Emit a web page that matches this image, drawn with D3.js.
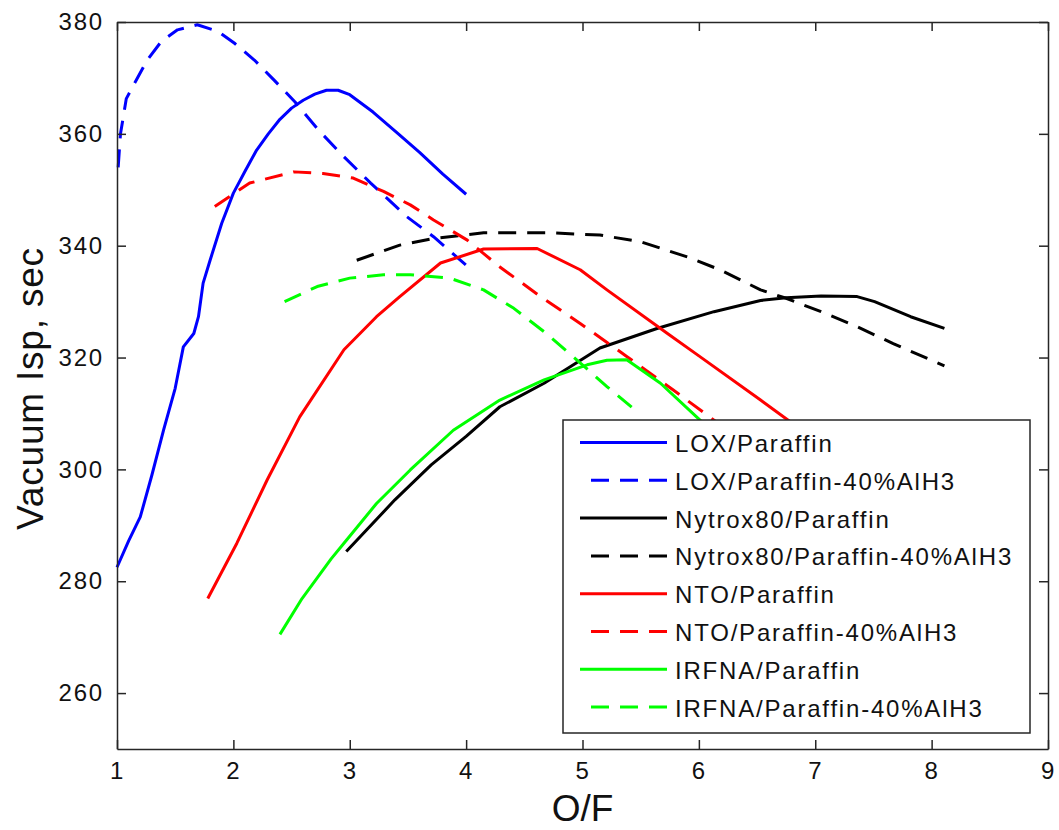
<!DOCTYPE html>
<html>
<head>
<meta charset="utf-8">
<script src="https://cdn.jsdelivr.net/npm/d3@7"></script>
<style>
    body { margin: 0; background: #fff; }
    svg { display: block; font-family: "Liberation Sans", Arial, Helvetica, sans-serif; }
    .axis path, .axis line { stroke: #262626; stroke-width: 1.5; }
    .axis text { font-size: 24px; fill: #111; letter-spacing: 1.8px; }
    .legend text { font-size: 24px; fill: #111; letter-spacing: 1.8px; }
</style>
</head>
<body>
<svg width="1059" height="830"></svg>
<script>
/* Isp vs O/F data */

var seriesNames = ["LOX/Paraffin", "LOX/Paraffin-40%AlH3", "Nytrox80/Paraffin", "Nytrox80/Paraffin-40%AlH3",
    "NTO/Paraffin", "NTO/Paraffin-40%AlH3", "IRFNA/Paraffin", "IRFNA/Paraffin-40%AlH3"];
var seriesColors = ["#0000ff", "#0000ff", "#000000", "#000000", "#ff0000", "#ff0000", "#00ff00", "#00ff00"];
var seriesDashed = [false, true, false, true, false, true, false, true];

var xTicks = [1, 2, 3, 4, 5, 6, 7, 8, 9];
var yTicks = [260, 280, 300, 320, 340, 360, 380];

var loxOF = [1.0, 1.1, 1.2, 1.3, 1.4, 1.5, 1.57, 1.66, 1.7, 1.74, 1.8, 1.9, 2.0, 2.1, 2.2, 2.3, 2.4, 2.5, 2.6, 2.7, 2.8, 2.9, 3.0, 3.2, 3.4, 3.6, 3.8, 4.0];
var loxIsp = [282.5, 287.2, 291.5, 299, 307, 314.5, 321.9, 324.3, 327.3, 333.3, 337.4, 344, 349.4, 353.3, 357.1, 360, 362.6, 364.6, 366, 367.1, 367.8, 367.8, 367, 363.9, 360.3, 356.7, 352.8, 349.2];

var loxAlOF = [1.01, 1.03, 1.08, 1.15, 1.26, 1.38, 1.52, 1.69, 1.87, 2.01, 2.18, 2.35, 2.53, 2.73, 2.95, 3.18, 3.49, 3.72, 4.0];
var loxAlIsp = [354, 360, 366.3, 369, 373.2, 376.5, 378.6, 379.5, 378.3, 376.2, 373.2, 369.6, 365.7, 360.7, 355.9, 351.2, 345.2, 341.6, 336.5];

var nytroxOF = [2.97, 3.39, 3.7, 4.0, 4.29, 4.67, 5.15, 5.64, 6.13, 6.53, 6.75, 7.05, 7.36, 7.51, 7.82, 8.11];
var nytroxIsp = [285.3, 294.6, 300.8, 305.9, 311.2, 315.4, 321.7, 325.2, 328.2, 330.2, 330.7, 331, 330.9, 330, 327.3, 325.2];

var nytroxAlOF = [3.06, 3.43, 3.72, 4.15, 4.72, 5.15, 5.5, 5.9, 6.18, 6.53, 6.75, 7.05, 7.36, 7.67, 8.11];
var nytroxAlIsp = [337.4, 340.1, 341.3, 342.3, 342.3, 341.9, 340.7, 338, 335.7, 332.1, 330.6, 328.2, 325.5, 322.5, 318.5];

var ntoOF = [1.78, 2.03, 2.29, 2.57, 2.95, 3.23, 3.43, 3.78, 4.15, 4.61, 4.98, 5.21, 5.73, 6.0, 6.53, 6.8];
var ntoIsp = [276.9, 286.8, 298.1, 309.4, 321.4, 327.3, 330.9, 336.9, 339.4, 339.5, 335.7, 332.1, 324.3, 320.3, 312.4, 308.3];

var ntoAlOF = [1.84, 2.14, 2.52, 2.77, 3.03, 3.29, 3.52, 3.72, 4.01, 4.29, 4.64, 4.98, 5.38, 5.78, 6.13, 6.25];
var ntoAlIsp = [347, 351.2, 353.2, 352.9, 352.1, 349.7, 347.3, 344.6, 341, 336.2, 330.9, 326.1, 320.2, 314.2, 308.8, 307];

var irfnaOF = [2.40, 2.59, 2.84, 2.95, 3.23, 3.52, 3.89, 4.29, 4.67, 5.04, 5.21, 5.38, 5.67, 6.01, 6.1];
var irfnaIsp = [270.5, 276.9, 284, 286.8, 293.9, 299.9, 307, 312.4, 316, 318.7, 319.5, 319.6, 315.4, 308.8, 307.5];

var irfnaAlOF = [2.44, 2.72, 3.0, 3.29, 3.52, 3.86, 4.15, 4.41, 4.69, 4.95, 5.21, 5.47];
var irfnaAlIsp = [330, 332.7, 334.2, 334.8, 334.8, 334.2, 332.1, 328.8, 324.3, 319.6, 314.8, 310.3];

var seriesOF = [loxOF, loxAlOF, nytroxOF, nytroxAlOF, ntoOF, ntoAlOF, irfnaOF, irfnaAlOF];
var seriesIsp = [loxIsp, loxAlIsp, nytroxIsp, nytroxAlIsp, ntoIsp, ntoAlIsp, irfnaIsp, irfnaAlIsp];

var svg = d3.select("svg"),
    margin = {top: 22, right: 11, bottom: 81, left: 117},
    width = +svg.attr("width") - margin.left - margin.right,
    height = +svg.attr("height") - margin.top - margin.bottom;

var x = d3.scaleLinear().domain([1, 9]).range([0, width]),
    y = d3.scaleLinear().domain([250, 380]).range([height, 0]);

var g = svg.append("g")
    .attr("transform", "translate(" + margin.left + "," + margin.top + ")");

/* lines */
var line = d3.line()
    .x(function (d) { return x(d[0]); })
    .y(function (d) { return y(d[1]); });

seriesNames.forEach(function (name, i) {
    var pts = seriesOF[i].map(function (v, j) { return [v, seriesIsp[i][j]]; });
    g.append("path")
        .datum(pts)
        .attr("fill", "none")
        .attr("stroke", seriesColors[i])
        .attr("stroke-width", 3)
        .attr("stroke-linejoin", "round")
        .attr("stroke-dasharray", seriesDashed[i] ? "18,11" : null)
        .attr("d", line);
});

/* axes, ticks pointing inwards on all four sides */
g.append("g")
    .attr("class", "axis")
    .attr("transform", "translate(0," + height + ")")
    .call(d3.axisBottom(x).tickValues(xTicks).tickSizeInner(-9).tickSizeOuter(0).tickPadding(13));

g.append("g")
    .attr("class", "axis")
    .call(d3.axisLeft(y).tickValues(yTicks).tickSizeInner(-9).tickSizeOuter(0).tickPadding(13));

g.append("g")
    .attr("class", "axis")
    .call(d3.axisTop(x).tickValues(xTicks).tickSizeInner(-9).tickSizeOuter(0).tickFormat(""));

g.append("g")
    .attr("class", "axis")
    .attr("transform", "translate(" + width + ",0)")
    .call(d3.axisRight(y).tickValues(yTicks).tickSizeInner(-9).tickSizeOuter(0).tickFormat(""));

/* axis titles */
svg.append("text")
    .attr("x", margin.left + width / 2)
    .attr("y", 821)
    .attr("text-anchor", "middle")
    .style("font-size", "37px")
    .style("fill", "#111")
    .text("O/F");

svg.append("text")
    .attr("transform", "translate(43," + (margin.top + height / 2 + 3) + ")rotate(-90)")
    .attr("text-anchor", "middle")
    .style("font-size", "37px")
    .style("letter-spacing", "0.8px")
    .style("fill", "#111")
    .text("Vacuum Isp, sec");

/* legend */
var legend = svg.append("g")
    .attr("class", "legend")
    .attr("transform", "translate(563,420)");

legend.append("rect")
    .attr("width", 467)
    .attr("height", 313)
    .attr("fill", "#fff")
    .attr("stroke", "#262626")
    .attr("stroke-width", 1.5);

seriesNames.forEach(function (name, i) {
    var ly = 22.5 + i * 37.8;
    legend.append("line")
        .attr("x1", 104)
        .attr("x2", 17)
        .attr("y1", ly)
        .attr("y2", ly)
        .attr("stroke", seriesColors[i])
        .attr("stroke-width", 3)
        .attr("stroke-dasharray", seriesDashed[i] ? "18,11" : null);
    legend.append("text")
        .attr("x", 112)
        .attr("y", ly + 9.5)
        .text(name);
});
</script>
</body>
</html>
